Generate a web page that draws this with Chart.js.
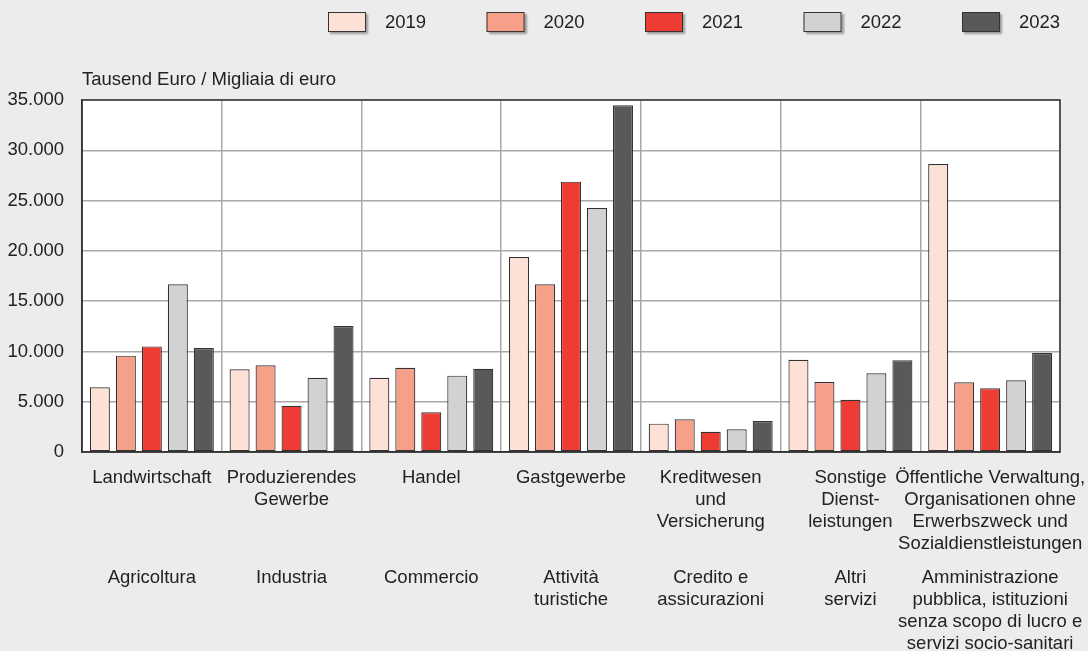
<!DOCTYPE html>
<html>
<head>
<meta charset="utf-8">
<script src="https://cdn.jsdelivr.net/npm/chart.js@4"></script>
<style>
  html, body { margin: 0; padding: 0; background: #ececec; overflow: hidden; }
  canvas { display: block; }
</style>
</head>
<body>
<canvas id="sectorChart" width="1088" height="660"></canvas>
<script>
// categories (German / Italian)
const labelsDe = [
  ['Landwirtschaft'],
  ['Produzierendes', 'Gewerbe'],
  ['Handel'],
  ['Gastgewerbe'],
  ['Kreditwesen', 'und', 'Versicherung'],
  ['Sonstige', 'Dienst-', 'leistungen'],
  ['Öffentliche Verwaltung,', 'Organisationen ohne', 'Erwerbszweck und', 'Sozialdienstleistungen']
];
const labelsIt = [
  ['Agricoltura'],
  ['Industria'],
  ['Commercio'],
  ['Attività', 'turistiche'],
  ['Credito e', 'assicurazioni'],
  ['Altri', 'servizi'],
  ['Amministrazione', 'pubblica, istituzioni', 'senza scopo di lucro e', 'servizi socio-sanitari']
];

const years = ['2019', '2020', '2021', '2022', '2023'];

// Tausend Euro
const values2019 = [6430, 8220, 7390, 19390, 2820, 9180, 28640];
const values2020 = [9580, 8620, 8380, 16670, 3250, 6960, 6930];
const values2021 = [10500, 4600, 3950, 26880, 2020, 5200, 6330];
const values2022 = [16670, 7390, 7590, 24260, 2250, 7820, 7130];
const values2023 = [10340, 12530, 8280, 34470, 3080, 9120, 9840];

const yTicks = [0, 5000, 10000, 15000, 20000, 25000, 30000, 35000];
const unitText = 'Tausend Euro / Migliaia di euro';

const colors = ['#fde0d6', '#f6a08a', '#ee3b33', '#d1d2d4', '#58595b'];
const font = "'Liberation Sans', Arial, sans-serif";
const fontSize = 18.5;

// white plot area + dark frame
const plotFrame = {
  id: 'plotFrame',
  beforeDraw(chart) {
    const { ctx, chartArea: a } = chart;
    ctx.save();
    ctx.fillStyle = '#ffffff';
    ctx.fillRect(a.left, a.top, a.right - a.left, a.bottom - a.top);
    ctx.restore();
  },
  afterDraw(chart) {
    const { ctx, chartArea: a } = chart;
    ctx.save();
    ctx.strokeStyle = '#333333';
    ctx.lineWidth = 1.5;
    ctx.strokeRect(a.left, a.top, a.right - a.left, a.bottom - a.top);
    // unit label above plot
    ctx.fillStyle = '#222222';
    ctx.font = fontSize + 'px ' + font;
    ctx.textBaseline = 'middle';
    ctx.textAlign = 'left';
    ctx.fillText(unitText, a.left, a.top - 20);
    ctx.restore();
  }
};

// legend row at top right
const topLegend = {
  id: 'topLegend',
  afterDraw(chart) {
    const ctx = chart.ctx;
    ctx.save();
    ctx.font = fontSize + 'px ' + font;
    ctx.textBaseline = 'middle';
    chart.data.datasets.forEach((ds, i) => {
      const x = 328 + i * 158.5;
      ctx.shadowColor = 'rgba(0,0,0,0.35)';
      ctx.shadowOffsetX = 2;
      ctx.shadowOffsetY = 2;
      ctx.shadowBlur = 2;
      ctx.fillStyle = ds.backgroundColor;
      ctx.fillRect(x, 12, 38, 20);
      ctx.shadowColor = 'transparent';
      ctx.strokeStyle = '#333333';
      ctx.lineWidth = 1;
      ctx.strokeRect(x + 0.5, 12.5, 37, 19);
      ctx.fillStyle = '#222222';
      ctx.fillText(ds.label, x + 57, 23);
    });
    ctx.restore();
  }
};

const noSidePadding = scale => {
  scale.paddingLeft = 0;
  scale.paddingRight = 0;
};

const allValues = [values2019, values2020, values2021, values2022, values2023];

new Chart(document.getElementById('sectorChart'), {
  type: 'bar',
  data: {
    labels: labelsDe,
    datasets: years.map((y, i) => ({
      label: y,
      data: allValues[i],
      backgroundColor: colors[i],
      borderColor: '#333333',
      borderWidth: 1.2,
      borderSkipped: false,
      categoryPercentage: 0.93,
      barPercentage: 0.77
    }))
  },
  options: {
    responsive: false,
    animation: false,
    layout: { padding: { top: 100, left: 8, right: 28, bottom: 8 } },
    plugins: {
      legend: { display: false },
      tooltip: { enabled: false }
    },
    scales: {
      x: {
        position: 'bottom',
        afterFit: noSidePadding,
        grid: { color: '#a8a8a8', lineWidth: 1.5, drawTicks: false, offset: true },
        border: { color: '#333333', width: 1.5 },
        ticks: {
          color: '#222222',
          font: { family: font, size: fontSize, lineHeight: 22 / fontSize },
          padding: 15,
          maxRotation: 0,
          autoSkip: false
        }
      },
      x2: {
        type: 'category',
        position: 'bottom',
        labels: labelsIt,
        offset: true,
        afterFit: noSidePadding,
        grid: { display: false, drawTicks: false },
        border: { display: false },
        ticks: {
          color: '#222222',
          font: { family: font, size: fontSize, lineHeight: 22 / fontSize },
          padding: -3,
          maxRotation: 0,
          autoSkip: false
        }
      },
      y: {
        min: 0,
        max: 35000,
        afterBuildTicks(scale) {
          scale.ticks = yTicks.map(v => ({ value: v }));
        },
        afterFit(scale) {
          scale.width = 74;
        },
        grid: { color: '#a8a8a8', lineWidth: 1.5, drawTicks: false },
        border: { color: '#333333', width: 1.5 },
        ticks: {
          color: '#222222',
          font: { family: font, size: fontSize },
          padding: 18,
          callback: v => v.toLocaleString('de-DE')
        }
      }
    }
  },
  plugins: [plotFrame, topLegend]
});
</script>
</body>
</html>
